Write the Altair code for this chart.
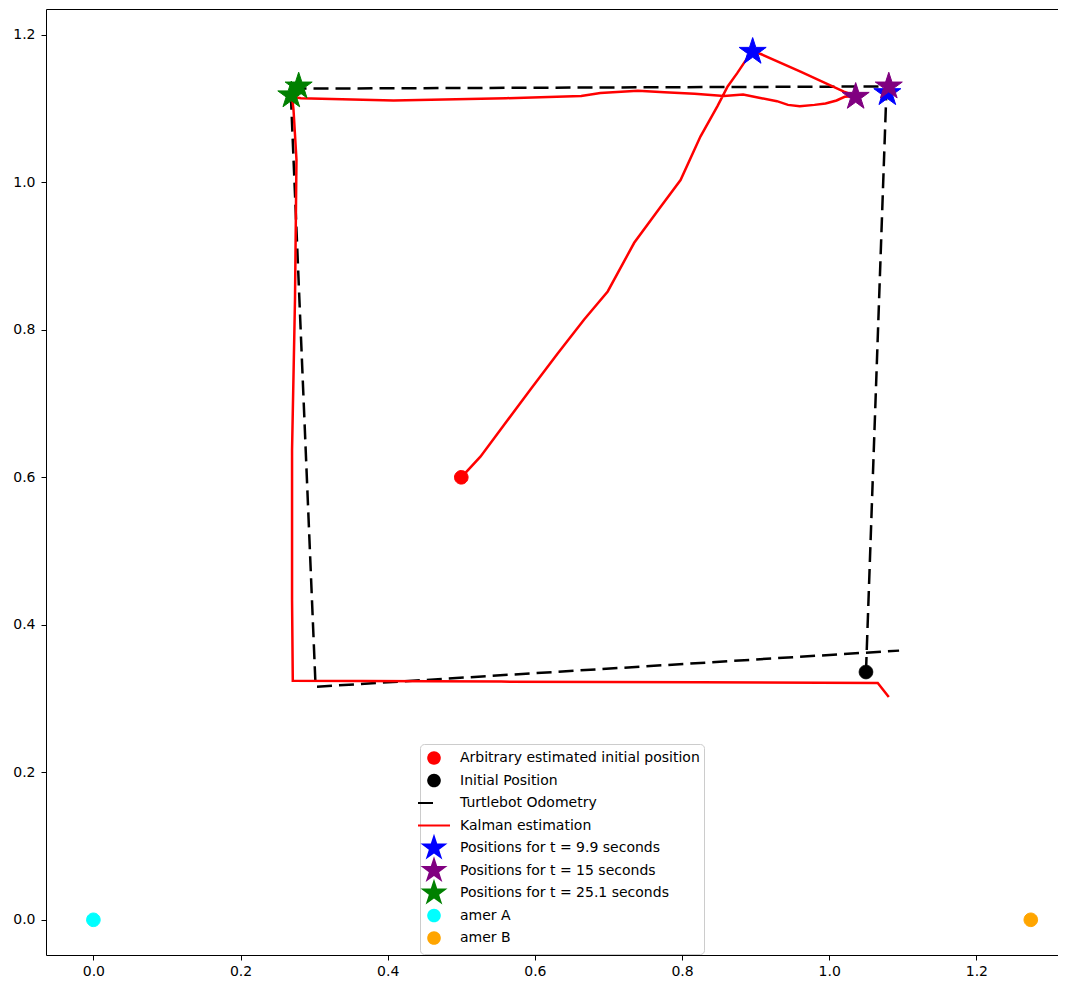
import math
import altair as alt
import pandas as pd

# ---------------- data ----------------
# Kalman estimated trajectory
kalman_x = [0.500, 0.526, 0.558, 0.594, 0.631, 0.667, 0.699, 0.735, 0.771, 0.798,
            0.825, 0.848, 0.862, 0.875, 0.887, 0.896, 0.907, 0.961, 1.020, 1.036,
            1.021, 1.010, 0.995, 0.980, 0.960, 0.944, 0.929, 0.908, 0.883, 0.857,
            0.817, 0.776, 0.740, 0.689, 0.663, 0.561, 0.408, 0.282, 0.270, 0.272,
            0.276, 0.274, 0.270, 0.270, 0.271, 0.554, 0.825, 1.066, 1.081]
kalman_y = [0.600, 0.628, 0.671, 0.719, 0.768, 0.814, 0.852, 0.918, 0.967, 1.003,
            1.062, 1.103, 1.130, 1.148, 1.166, 1.177, 1.174, 1.150, 1.123, 1.117,
            1.116, 1.111, 1.107, 1.105, 1.103, 1.105, 1.110, 1.114, 1.119, 1.117,
            1.120, 1.122, 1.124, 1.121, 1.117, 1.114, 1.111, 1.114, 1.116, 1.098,
            1.031, 0.841, 0.637, 0.434, 0.324, 0.323, 0.322, 0.321, 0.302]

# Turtlebot odometry
odom_x = [1.050, 1.078, 0.268, 0.302, 1.095]
odom_y = [0.336, 1.130, 1.127, 0.316, 0.365]

# legend entries (plot order) and their colours
labels = ["Arbitrary estimated initial position", "Initial Position",
          "Turtlebot Odometry", "Kalman estimation",
          "Positions for t = 9.9 seconds", "Positions for t = 15 seconds",
          "Positions for t = 25.1 seconds", "amer A", "amer B"]
colors = ["#ff0000", "#000000", "#000000", "#ff0000",
          "#0000ff", "#800080", "#008000", "#00ffff", "#ffa500"]

# single markers drawn before the lines
dot_label = [labels[0], labels[1]]
dot_x = [0.500, 1.050]
dot_y = [0.600, 0.336]

# star markers (Kalman position, odometry position) and beacons
mark_label = [labels[4], labels[4], labels[5], labels[5], labels[6], labels[6],
              labels[7], labels[8]]
mark_x = [0.896, 1.079, 1.036, 1.081, 0.269, 0.279, 0.000, 1.274]
mark_y = [1.177, 1.121, 1.116, 1.130, 1.118, 1.130, 0.000, 0.000]

x_ticks = [0.0, 0.2, 0.4, 0.6, 0.8, 1.0, 1.2]
y_ticks = [0.0, 0.2, 0.4, 0.6, 0.8, 1.0, 1.2]

# ---------------- symbol shapes (unit = 10 px at size 400) ----------------
R = 1.42
BOX = f"M0,{-R:.3f}M0,{R * 0.809:.3f}"          # same vertical extent for every legend row
CIRCLE = BOX + "M0.68,0A0.68,0.68 0 1,1 -0.68,0A0.68,0.68 0 1,1 0.68,0Z"
pts = []
for k in range(10):
    ang = math.radians(36 * k)
    rr = R if k % 2 == 0 else R * 0.382
    pts.append((rr * math.sin(ang), -rr * math.cos(ang)))
STAR = "M" + "L".join(f"{px:.3f},{py:.3f}" for px, py in pts) + "Z"
DASH = BOX + "M-1.6,-0.1H-0.1V0.1H-1.6Z"
LINE = BOX + "M-1.6,-0.1H1.6V0.1H-1.6Z"
shapes = [CIRCLE, CIRCLE, DASH, LINE, STAR, STAR, STAR, CIRCLE, CIRCLE]

kalman = pd.DataFrame({"x": kalman_x, "y": kalman_y, "i": range(len(kalman_x))})
odom = pd.DataFrame({"x": odom_x, "y": odom_y, "i": range(len(odom_x))})
dots = pd.DataFrame({"x": dot_x, "y": dot_y, "label": dot_label})
marks = pd.DataFrame({"x": mark_x, "y": mark_y, "label": mark_label})

W, H = 1012, 946
xs = alt.Scale(domain=[-0.0644, -0.0644 + W / 735.8], nice=False, zero=False)
ys = alt.Scale(domain=[1.235 - H / 737.5, 1.235], nice=False, zero=False)
X = alt.X("x:Q", scale=xs, axis=alt.Axis(values=x_ticks, format=".1f", title=None))
Y = alt.Y("y:Q", scale=ys, axis=alt.Axis(values=y_ticks, format=".1f", title=None))

leg = alt.Legend(title=None, orient="none", legendX=374, legendY=735,
                 labelFont="DejaVu Sans", labelFontSize=14, labelColor="black",
                 fillColor="rgba(255,255,255,0.8)", strokeColor="#cccccc",
                 cornerRadius=4, padding=4, rowPadding=-4.5, labelOffset=16,
                 symbolStrokeWidth=0, symbolSize=400, symbolOpacity=1,
                 labelLimit=0)

def point_enc():
    return dict(
        x=X, y=Y,
        fill=alt.Fill("label:N", scale=alt.Scale(domain=labels, range=colors), legend=leg),
        stroke=alt.Stroke("label:N", scale=alt.Scale(domain=labels, range=colors), legend=leg),
        shape=alt.Shape("label:N", scale=alt.Scale(domain=labels, range=shapes), legend=leg),
    )

dots_layer = alt.Chart(dots).mark_point(filled=True, size=400, opacity=1, strokeWidth=1).encode(**point_enc())

odom_layer = alt.Chart(odom).mark_line(color="black", strokeWidth=2.5, strokeDash=[15, 7]).encode(
    x=X, y=Y, order="i:Q")

kalman_layer = alt.Chart(kalman).mark_line(color="#ff0000", strokeWidth=2.5).encode(
    x=X, y=Y, order="i:Q")

marks_layer = alt.Chart(marks).mark_point(filled=True, size=400, opacity=1, strokeWidth=1).encode(**point_enc())

chart = alt.layer(dots_layer, odom_layer, kalman_layer, marks_layer).properties(
    width=W, height=H,
    padding={"left": 4, "top": 1, "right": 0, "bottom": 0},
).configure_view(
    stroke="black", strokeWidth=1
).configure_axis(
    domain=False, grid=False, tickColor="black", tickSize=5, tickWidth=1,
    labelFont="DejaVu Sans", labelFontSize=14, labelColor="black",
    labelPadding=4,
).configure_axisY(labelPadding=6)

chart.save("out.html", embed_options={"renderer": "svg", "actions": False})
